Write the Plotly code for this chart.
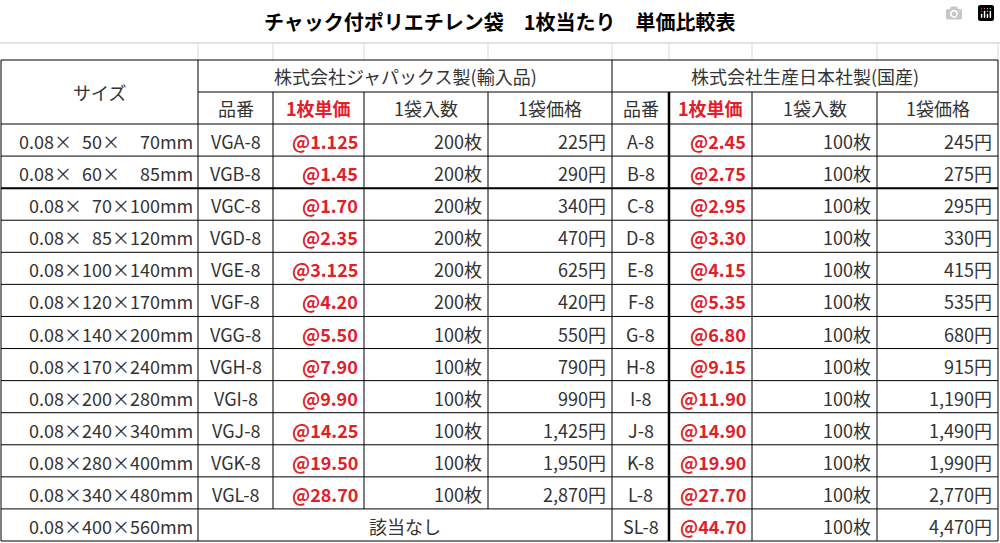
import plotly.graph_objects as go

title = "チャック付ポリエチレン袋　1枚当たり　単価比較表"
sizes = ["50×\u2007\u200770", "60×\u2007\u200785", "70×100", "85×120", "100×140", "120×170",
         "140×200", "170×240", "200×280", "240×340", "280×400", "340×480", "400×560"]
sizes_fmt = []
for s in sizes:
    a, b = s.split("×", 1)
    a = a.rjust(3, "\u2007")
    sizes_fmt.append("0.08×" + a + "×" + b + "mm")
jp_codes = ["VGA-8", "VGB-8", "VGC-8", "VGD-8", "VGE-8", "VGF-8", "VGG-8", "VGH-8",
            "VGI-8", "VGJ-8", "VGK-8", "VGL-8"]
jp_unit = ["1.125", "1.45", "1.70", "2.35", "3.125", "4.20", "5.50", "7.90", "9.90",
           "14.25", "19.50", "28.70"]
jp_qty = [200, 200, 200, 200, 200, 200, 100, 100, 100, 100, 100, 100]
jp_price = [225, 290, 340, 470, 625, 420, 550, 790, 990, 1425, 1950, 2870]
kr_codes = ["A-8", "B-8", "C-8", "D-8", "E-8", "F-8", "G-8", "H-8", "I-8", "J-8", "K-8",
            "L-8", "SL-8"]
kr_unit = ["2.45", "2.75", "2.95", "3.30", "4.15", "5.35", "6.80", "9.15", "11.90",
           "14.90", "19.90", "27.70", "44.70"]
kr_qty = [100] * 13
kr_price = [245, 275, 295, 330, 415, 535, 680, 915, 1190, 1490, 1990, 2770, 4470]

cols = [1, 198, 273, 364, 488, 612, 669, 752, 877, 998]
row_h = (541 - 124) / 13
rows = [124 + i * row_h for i in range(14)]

FONT = "Noto Sans CJK JP"
BLACK = "#333333"
RED = "#e0202a"
FS = 18
shapes, ann = [], []


def line(x0, y0, x1, y1, w=1, c="black"):
    shapes.append(dict(type="line", x0=x0, y0=y0, x1=x1, y1=y1,
                       line=dict(color=c, width=w), layer="above"))


def txt(x, y, t, align="center", color=BLACK, size=FS, bold=False):
    if bold:
        t = "<b>" + t + "</b>"
    ann.append(dict(x=x, y=y, text=t, showarrow=False, xanchor=align, yanchor="middle",
                    font=dict(family=FONT, size=size, color=color)))


# faint excel gridlines above the table
line(0, 43, 1000, 43, 1.5, "#d9d9d9")
for x in cols[1:]:
    line(x, 43, x, 60, 1, "#d9d9d9")

# table borders
line(cols[0], 60, cols[-1], 60)
line(cols[1], 92, cols[-1], 92)
for y in rows:
    w = 2 if abs(y - rows[2]) < 1 else 1
    line(cols[0], y, cols[-1], y, w)
line(cols[0], 60, cols[0], rows[-1])
line(cols[-1], 60, cols[-1], rows[-1])
line(cols[1], 60, cols[1], rows[-1])
line(cols[5], 60, cols[5], rows[-1])
for i in [2, 3, 4]:
    line(cols[i], 92, cols[i], rows[12])
line(cols[6], 92, cols[6], rows[-1], 2.5)
for i in [7, 8]:
    line(cols[i], 92, cols[i], rows[-1])

txt(500, 21, title, size=20, bold=True, color="black")
txt((cols[0] + cols[1]) / 2, 92, "サイズ")
txt((cols[1] + cols[5]) / 2, 76, "株式会社ジャパックス製(輸入品)")
txt((cols[5] + cols[9]) / 2, 76, "株式会社生産日本社製(国産)")
heads = ["品番", "1枚単価", "1袋入数", "1袋価格"]
for base in (1, 5):
    for k, h in enumerate(heads):
        red = k == 1
        txt((cols[base + k] + cols[base + k + 1]) / 2, 108, h,
            color=RED if red else BLACK, bold=red)

for r in range(13):
    yc = (rows[r] + rows[r + 1]) / 2 + 1
    txt(cols[1] - 3, yc, sizes_fmt[r], align="right")
    if r < 12:
        txt((cols[1] + cols[2]) / 2, yc, jp_codes[r])
        txt(cols[3] - 4, yc, "@" + jp_unit[r], align="right", color=RED, bold=True)
        txt(cols[4] - 4, yc, f"{jp_qty[r]}枚", align="right")
        txt(cols[5] - 4, yc, f"{jp_price[r]:,}円", align="right")
    else:
        txt((cols[1] + cols[5]) / 2, yc, "該当なし")
    txt((cols[5] + cols[6]) / 2, yc, kr_codes[r])
    txt(cols[7] - 4, yc, "@" + kr_unit[r], align="right", color=RED, bold=True)
    txt(cols[8] - 4, yc, f"{kr_qty[r]}枚", align="right")
    txt(cols[9] - 4, yc, f"{kr_price[r]:,}円", align="right")

fig = go.Figure()
fig.update_layout(width=1000, height=543, margin=dict(l=0, r=0, t=0, b=0),
                  plot_bgcolor="white", paper_bgcolor="white",
                  xaxis=dict(range=[0, 1000], visible=False, fixedrange=True),
                  yaxis=dict(range=[543, 0], visible=False, fixedrange=True),
                  shapes=shapes, annotations=ann, showlegend=False)
fig.write_html("out.html", post_script="document.body.style.margin='0';"
               "document.body.style.overflow='hidden';")
